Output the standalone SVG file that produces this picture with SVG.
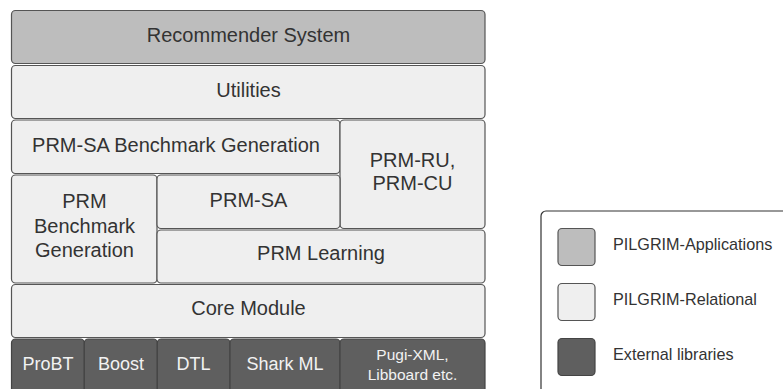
<svg xmlns="http://www.w3.org/2000/svg" width="783" height="389" viewBox="0 0 783 389">
<style>
.app{fill:#bdbdbd;stroke:#555;stroke-width:1.2}
.rel{fill:#efefef;stroke:#555;stroke-width:1.2}
.ext{fill:#5f5f5f;stroke:#444;stroke-width:1.2}
text{font-family:"Liberation Sans",Arial,sans-serif;text-anchor:middle}
.t{font-size:20px;fill:#333}
.w{font-size:18px;fill:#f2f2f2}
.ws{font-size:15.5px;fill:#f2f2f2}
.lg{font-size:16.2px;fill:#333;text-anchor:start}
</style>
<rect x="0" y="0" width="783" height="389" fill="#fff"/>
<g id="recommender"><rect class="app" x="11.5" y="10.5" width="473.5" height="53" rx="4"/><text class="t" x="248.5" y="42">Recommender System</text></g>
<g id="utilities"><rect class="rel" x="11.5" y="65.5" width="473.5" height="53" rx="4"/><text class="t" x="248.5" y="97">Utilities</text></g>
<g id="prmsa-bench"><rect class="rel" x="11.5" y="120" width="328.5" height="53.5" rx="4"/><text class="t" x="176" y="152">PRM-SA Benchmark Generation</text></g>
<g id="prm-ru-cu"><rect class="rel" x="340" y="120" width="145" height="108.5" rx="4"/><text class="t" x="412.5" y="167">PRM-RU,</text><text class="t" x="412.5" y="190">PRM-CU</text></g>
<g id="prm-bench"><rect class="rel" x="11.5" y="175" width="145.5" height="108" rx="4"/><text class="t" x="84.5" y="208">PRM</text><text class="t" x="84.5" y="233">Benchmark</text><text class="t" x="84.5" y="257">Generation</text></g>
<g id="prm-sa"><rect class="rel" x="157" y="175" width="183" height="53.5" rx="4"/><text class="t" x="248.5" y="207">PRM-SA</text></g>
<g id="prm-learning"><rect class="rel" x="157" y="230" width="328" height="53" rx="4"/><text class="t" x="321" y="260">PRM Learning</text></g>
<g id="core"><rect class="rel" x="11.5" y="284.5" width="473.5" height="53" rx="4"/><text class="t" x="248.5" y="315">Core Module</text></g>
<g id="probt"><rect class="ext" x="11.5" y="339" width="72.8" height="60" rx="4"/><text class="w" x="48" y="370">ProBT</text></g>
<g id="boost"><rect class="ext" x="84.3" y="339" width="73" height="60" rx="4"/><text class="w" x="121" y="370">Boost</text></g>
<g id="dtl"><rect class="ext" x="157.3" y="339" width="72.7" height="60" rx="4"/><text class="w" x="193.5" y="370">DTL</text></g>
<g id="shark"><rect class="ext" x="230" y="339" width="110" height="60" rx="4"/><text class="w" x="285" y="370">Shark ML</text></g>
<g id="pugi"><rect class="ext" x="340" y="339" width="145" height="60" rx="4"/><text class="ws" x="412.5" y="360">Pugi-XML,</text><text class="ws" x="412.5" y="380">Libboard etc.</text></g>
<g id="connectors"></g>
<g id="legend">
<rect x="541" y="211" width="260" height="200" rx="5" fill="#fff" stroke="#333" stroke-width="1.2"/>
<rect class="app" x="558" y="228.5" width="37" height="37" rx="4"/><text class="lg" x="613" y="250">PILGRIM-Applications</text>
<rect class="rel" x="558" y="283.5" width="37" height="37" rx="4"/><text class="lg" x="613" y="305">PILGRIM-Relational</text>
<rect class="ext" x="558" y="338.5" width="37" height="37" rx="4"/><text class="lg" x="613" y="360">External libraries</text>
</g>
</svg>
